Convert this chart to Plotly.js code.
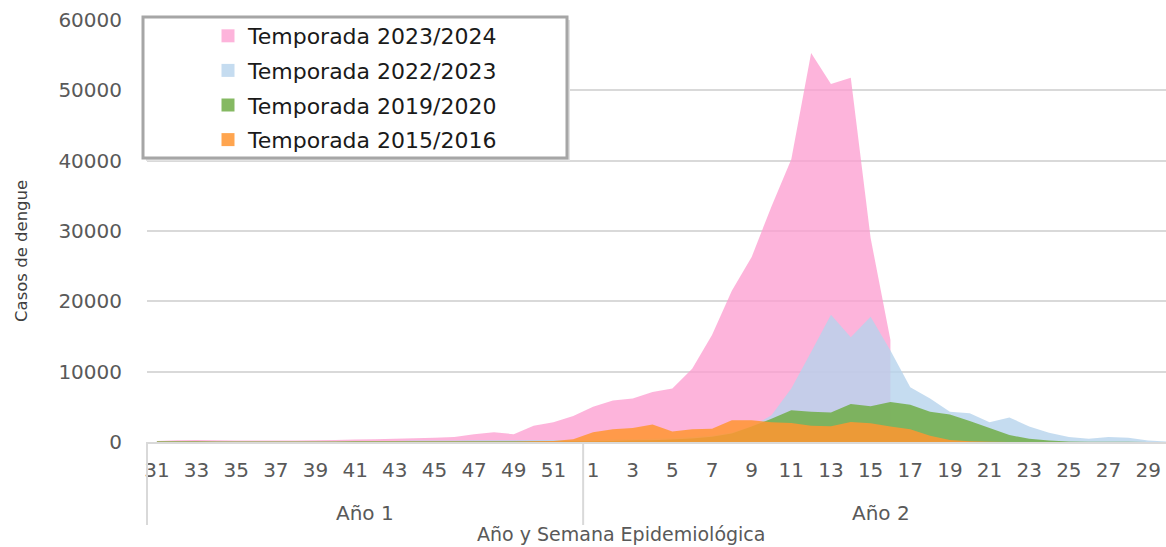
<!DOCTYPE html>
<html><head><meta charset="utf-8">
<script src="https://cdn.plot.ly/plotly-3.0.1.min.js"></script>
<style>html,body{margin:0;padding:0;background:#fff;} #chart{width:1166px;height:547px;}</style>
</head><body><div id="chart"></div>
<script>
// Categories: epidemiological weeks, year 1 (31-52) and year 2 (1-30)
const weeksYear1 = [31,32,33,34,35,36,37,38,39,40,41,42,43,44,45,46,47,48,49,50,51,52];
const weeksYear2 = [1,2,3,4,5,6,7,8,9,10,11,12,13,14,15,16,17,18,19,20,21,22,23,24,25,26,27,28,29,30];
const yearLabels = ['Año 1', 'Año 2'];
const seriesNames = ['Temporada 2023/2024', 'Temporada 2022/2023', 'Temporada 2019/2020', 'Temporada 2015/2016'];

// Dengue cases per week (year 1 then year 2)
const season2324 = [150,250,300,250,200,200,200,200,250,300,350,400,450,550,600,700,1100,1400,1100,2300,2800,3700,
  5000,5900,6200,7100,7600,10400,15200,21500,26300,33500,40200,55300,50900,51800,29000,14500,
  null,null,null,null,null,null,null,null,null,null,null,null,null,null];
const season2223 = [150,150,120,100,100,100,100,100,120,120,150,150,150,200,200,200,250,250,250,300,300,300,
  300,350,400,450,550,700,900,1300,2200,3800,7600,12800,18100,14900,17800,13000,7800,6200,4300,4100,2800,3500,2200,1300,700,450,700,600,200,50];
const season1920 = [100,100,100,80,80,80,80,80,80,80,100,100,100,100,100,100,100,100,100,100,100,100,
  100,150,200,250,350,500,750,1200,2200,3300,4500,4300,4200,5400,5100,5700,5300,4300,3900,3000,2000,1000,450,200,80,50,30,20,10,0];
const season1516 = [20,20,20,20,20,20,20,20,20,20,20,20,20,20,20,20,20,20,20,100,150,400,
  1400,1800,2000,2500,1500,1800,1900,3100,3100,2800,2700,2300,2250,2850,2650,2200,1800,900,300,100,50,0,0,0,0,0,0,0,0,0];
const yTicks = [0,10000,20000,30000,40000,50000,60000];

const weeks = weeksYear1.concat(weeksYear2);
const idx = weeks.map((w, i) => i);
const tickvals = idx.filter(i => weeks[i] % 2 === 1);
const ticktext = tickvals.map(i => String(weeks[i]));

const colors = ['rgba(252,155,207,0.75)', 'rgba(182,211,236,0.8)', 'rgba(112,173,71,0.85)', 'rgba(255,149,48,0.85)'];
const seriesData = [season2324, season2223, season1920, season1516];

const FONT = 'DejaVu Sans';
const traces = [];
seriesData.forEach((ys, k) => {
  traces.push({type:'scatter', mode:'none', x: idx, y: ys, fill:'tozeroy', fillcolor: colors[k],
    name: seriesNames[k], showlegend:false, hoverinfo:'x+y'});
});
seriesData.forEach((ys, k) => {
  traces.push({type:'scatter', mode:'markers', x:[null], y:[null], name: seriesNames[k], legendgroup:'g' + k,
    marker:{symbol:'square', size:13, color: colors[k]}, showlegend:true, hoverinfo:'skip'});
});

const xr = [-0.5, 50.9];
const px = v => (v - xr[0]) / (xr[1] - xr[0]);
const W = 1166, H = 547, ML = 147, MR = 0, MT = 20, MB = 105;
const pw = W - ML - MR, ph = H - MT - MB;
const pxX = p => (p - ML) / pw;      // pixel -> paper
const pxY = p => (H - MB - p) / ph;

const dividers = [-0.5, weeksYear1.length - 0.5, weeks.length - 0.5];
const shapes = dividers.map(d => ({type:'line', xref:'paper', yref:'paper', x0:px(d), x1:px(d), y0:0, y1:pxY(525),
  line:{color:'#d9d9d9', width:2}}));
shapes.push({type:'rect', xref:'paper', yref:'paper', x0:pxX(146), x1:pxX(570), y0:pxY(161), y1:pxY(20),
  fillcolor:'#e3e3e3', line:{width:0}, layer:'above'});
shapes.push({type:'rect', xref:'paper', yref:'paper', x0:pxX(143), x1:pxX(567), y0:pxY(158), y1:pxY(17),
  fillcolor:'#ffffff', line:{color:'#a6a6a6', width:3}, layer:'above'});

const annotations = [
  {xref:'x', yref:'paper', x:(weeksYear1.length - 1) / 2, y:pxY(513), text:yearLabels[0], showarrow:false,
   yanchor:'middle', font:{family:FONT, size:20, color:'#595959'}},
  {xref:'x', yref:'paper', x:weeksYear1.length + (weeksYear2.length - 1) / 2, y:pxY(513), text:yearLabels[1], showarrow:false,
   yanchor:'middle', font:{family:FONT, size:20, color:'#595959'}},
  {xref:'paper', yref:'paper', x:pxX(621), y:pxY(534), text:'Año y Semana Epidemiológica', showarrow:false,
   yanchor:'middle', font:{family:FONT, size:19, color:'#595959'}},
  {xref:'paper', yref:'paper', x:pxX(21), y:pxY(251), text:'Casos de dengue', showarrow:false, textangle:-90,
   xanchor:'center', yanchor:'middle', font:{family:FONT, size:16.5, color:'#404040'}}
];

const layout = {
  width: W, height: H,
  margin:{l:ML, r:MR, t:MT, b:MB, pad:0},
  paper_bgcolor:'#ffffff', plot_bgcolor:'#ffffff',
  showlegend:true,
  legend:{x:pxX(208), y:pxY(15), xanchor:'left', yanchor:'top', bgcolor:'rgba(0,0,0,0)', borderwidth:0,
    tracegroupgap:3, font:{family:FONT, size:22, color:'#1a1a1a'}},
  xaxis:{range:xr, tickmode:'array', tickvals:tickvals, ticktext:ticktext, showgrid:false, zeroline:false,
    showline:true, linecolor:'#d9d9d9', linewidth:2, ticks:'', ticklabelstandoff:9,
    tickfont:{family:FONT, size:20, color:'#595959'}, fixedrange:true},
  yaxis:{range:[0,60000], tickmode:'array', tickvals:yTicks, ticktext:yTicks.map(String), showgrid:true,
    gridcolor:'#d9d9d9', gridwidth:1.8, zeroline:false, showline:false, ticks:'', ticklabelstandoff:24,
    tickfont:{family:FONT, size:20, color:'#595959'}, fixedrange:true},
  shapes: shapes,
  annotations: annotations
};
Plotly.newPlot('chart', traces, layout, {displayModeBar:false, staticPlot:true});
</script></body></html>
